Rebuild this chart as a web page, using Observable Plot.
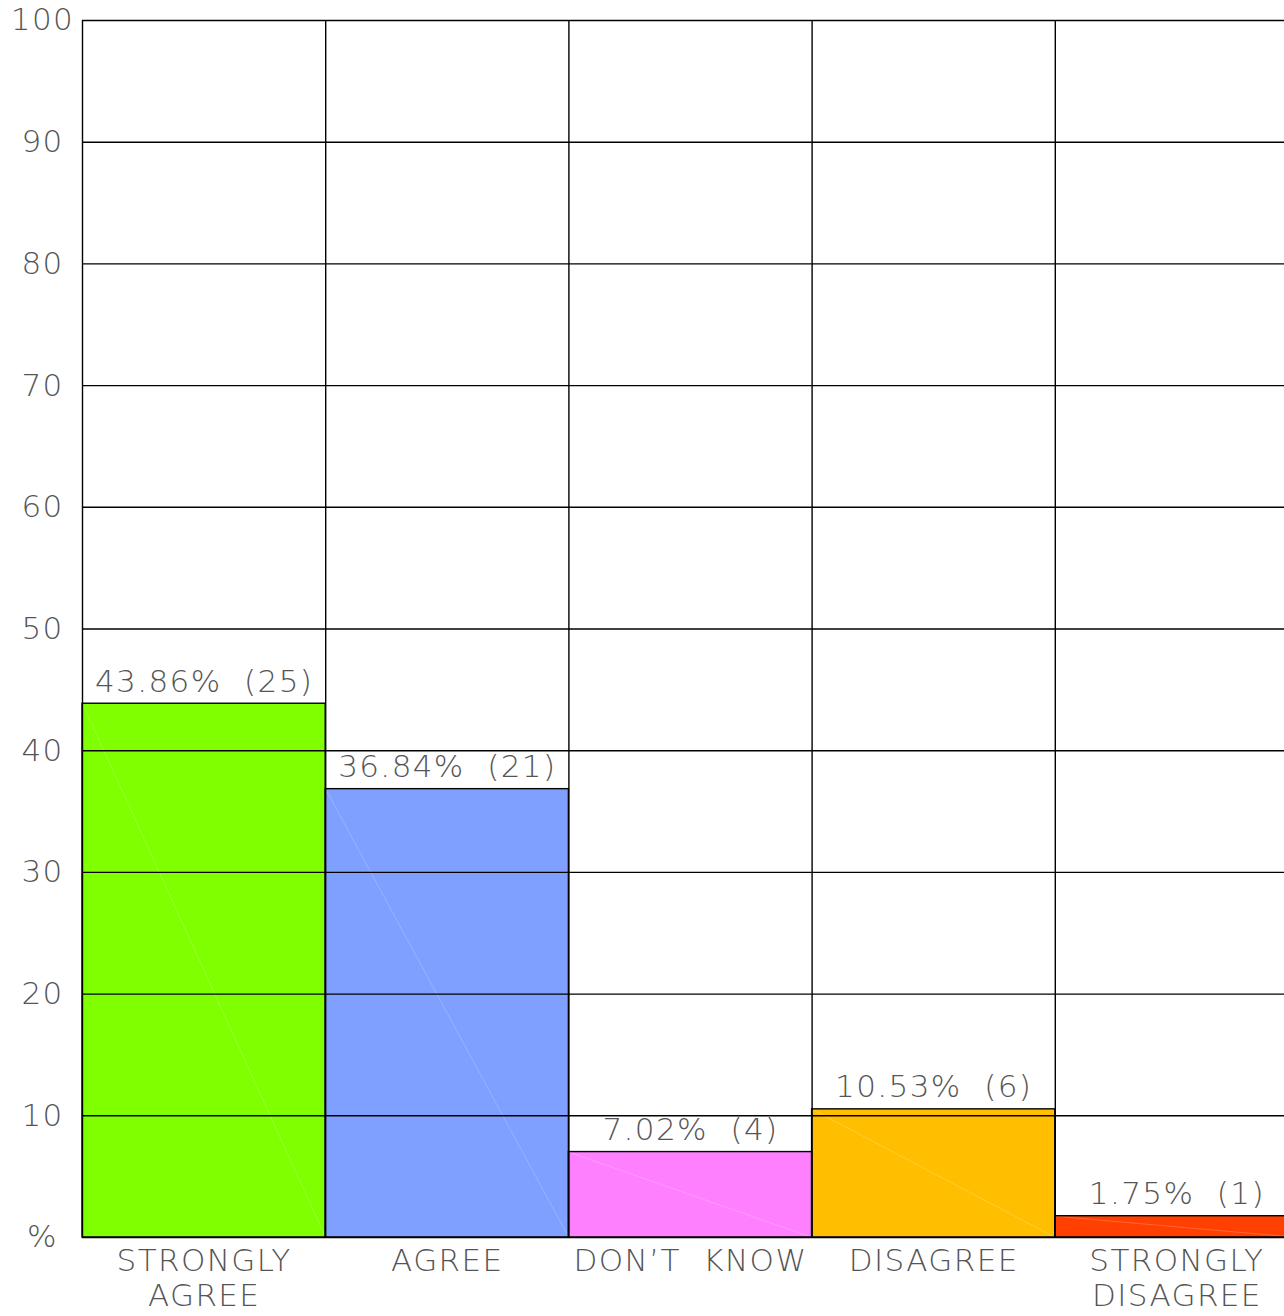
<!DOCTYPE html>
<html>
<head>
<meta charset="utf-8">
<script src="https://cdn.jsdelivr.net/npm/d3@7"></script>
<script src="https://cdn.jsdelivr.net/npm/@observablehq/plot@0.6"></script>
<style>
  html, body { margin: 0; padding: 0; background: #fff; overflow: hidden; }
  svg text { white-space: pre; letter-spacing: 1.4px; }
</style>
</head>
<body>
<div id="chart"></div>
<script>
const categories = ["STRONGLY\nAGREE", "AGREE", "DON’T  KNOW", "DISAGREE", "STRONGLY\nDISAGREE"];
const percents = [43.86, 36.84, 7.02, 10.53, 1.75];
const counts = [25, 21, 4, 6, 1];
const colors = ["#80ff00", "#80a0ff", "#ff80ff", "#ffbf00", "#ff4000"];
const yTicks = [0, 10, 20, 30, 40, 50, 60, 70, 80, 90, 100];

const data = categories.map((c, i) => ({cat: c, i, pct: percents[i], n: counts[i]}));
const font = "'DejaVu Sans', sans-serif";
const textColor = "#555";

const chart = Plot.plot({
  width: 1284,
  height: 1316,
  marginLeft: 82,
  marginRight: -14,
  marginTop: 20,
  marginBottom: 79,
  style: {fontFamily: font, fontWeight: 200, overflow: "hidden", background: "#fff"},
  x: {domain: [0, 5], range: [82, 1298], axis: null},
  y: {domain: [0, 100], range: [1237, 20], axis: null},
  color: {domain: categories, range: colors},
  marks: [
    Plot.rectY(data, {x1: d => d.i, x2: d => d.i + 1, y1: 0, y2: d => d.pct, fill: "cat"}),
    Plot.link(data, {x1: d => d.i, y1: d => d.pct, x2: d => d.i + 1, y2: 0, stroke: "#fff", strokeOpacity: 0.2, strokeWidth: 1}),
    Plot.ruleY(yTicks, {stroke: "#000", strokeWidth: 1.4}),
    Plot.ruleX([0, 1, 2, 3, 4, 5], {stroke: "#000", strokeWidth: 1.4}),
    Plot.rectY(data, {x1: d => d.i, x2: d => d.i + 1, y1: 0, y2: d => d.pct, fill: "none", stroke: "#000", strokeWidth: 1.4}),
    Plot.axisY(yTicks, {
      anchor: "left", tickSize: 0, tickPadding: 40, textAnchor: "middle",
      tickFormat: d => d === 0 ? "%" : String(d),
      fontSize: 31, fill: textColor, fontFamily: font, fontWeight: 200
    }),
    Plot.text(data, {
      x: d => d.i + 0.5, y: d => d.pct,
      text: d => `${d.pct.toFixed(2)}%  (${d.n})`,
      dy: -22, fontSize: 31, fill: textColor, fontFamily: font, fontWeight: 200
    }),
    Plot.text(data, {
      x: d => d.i + 0.5, y: 0, text: "cat",
      lineAnchor: "top", dy: 8, lineHeight: 1.14,
      fontSize: 31, fill: textColor, fontFamily: font, fontWeight: 200
    })
  ]
});
document.getElementById("chart").appendChild(chart);
</script>
</body>
</html>
